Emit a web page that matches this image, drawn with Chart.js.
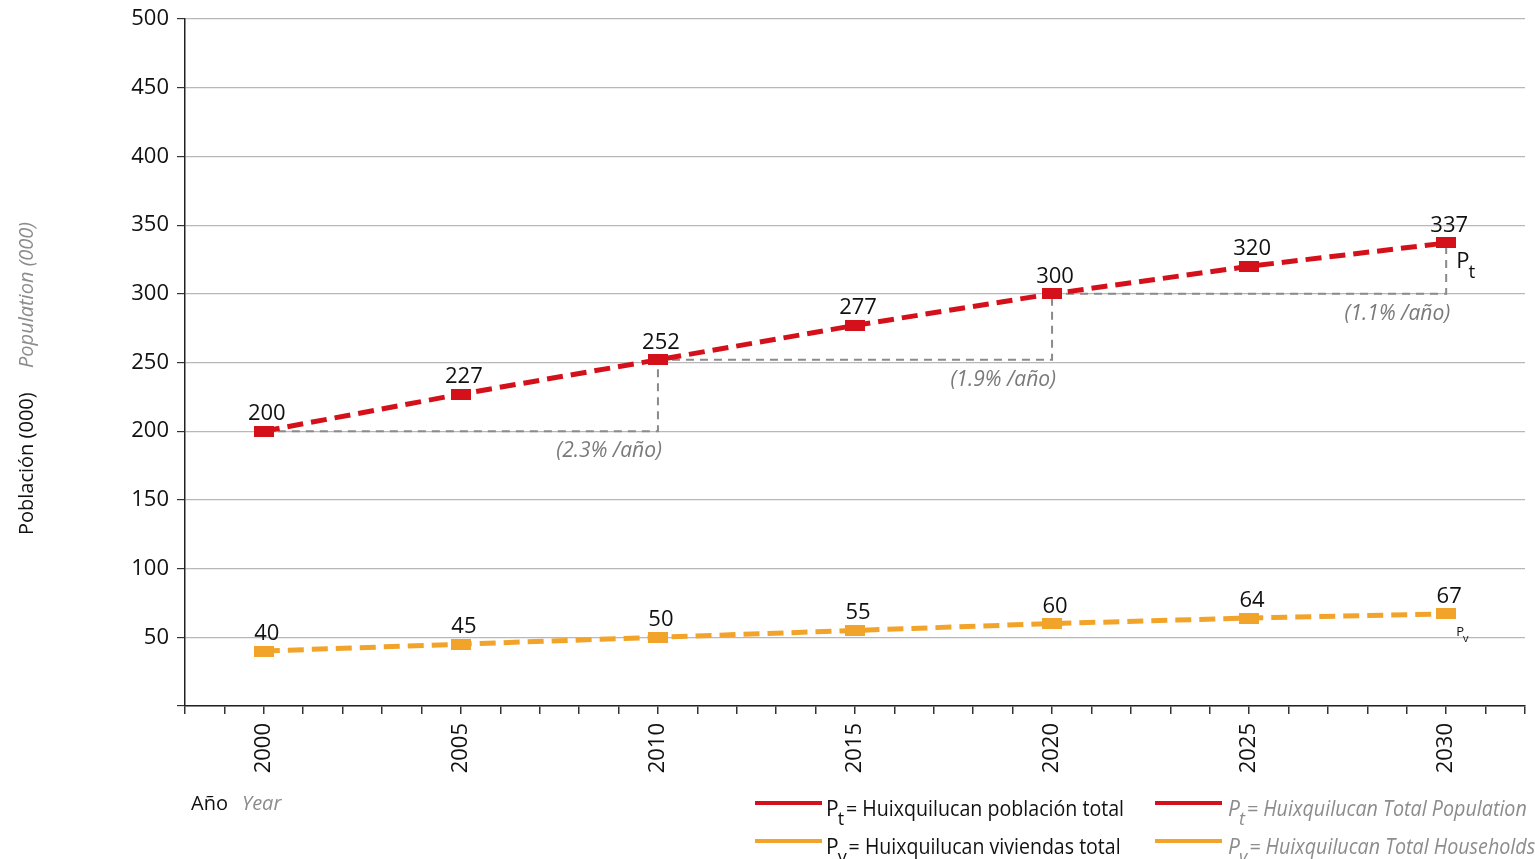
<!DOCTYPE html>
<html>
<head>
<meta charset="utf-8">
<script src="https://cdn.jsdelivr.net/npm/chart.js@4.4.0/dist/chart.umd.min.js"></script>
<style>
  html, body { margin: 0; background: #fff; }
</style>
</head>
<body>
<canvas id="chart" width="1535" height="859"></canvas>
<script>
// datos
const years = [2000, 2005, 2010, 2015, 2020, 2025, 2030];
const total = [200, 227, 252, 277, 300, 320, 337];        // Pt
const households = [40, 45, 50, 55, 60, 64, 67];          // Pv
const rateLabels = ['(2.3% /año)', '(1.9% /año)', '(1.1% /año)'];
const rateFrom = [0, 2, 4];   // índice en years
const rateTo = [2, 4, 6];

const RED = '#d4111b';
const ORANGE = '#f2a329';
const FONT = '"Open Sans", "Noto Sans", sans-serif';

function mark(color) {
    let c = document.createElement('canvas');
    c.width = 20; c.height = 11;
    let g = c.getContext('2d');
    g.fillStyle = color;
    g.fillRect(0, 0, 20, 11);
    return c;
}

function pts(vals) {
    return years.map((y, i) => ({ x: y, y: vals[i] }));
}

// escalones punteados grises
let steps = rateFrom.map((f, i) => ({
    data: [
        { x: years[f], y: total[f] },
        { x: years[rateTo[i]], y: total[f] },
        { x: years[rateTo[i]], y: total[rateTo[i]] }
    ],
    borderColor: '#8a8a8a',
    borderWidth: 2,
    borderDash: [8, 6],
    pointRadius: 0,
    fill: false
}));

// texto estrecho (la fuente original es más condensada)
function narrowText(ctx, t, x, y, sx) {
    ctx.save();
    ctx.translate(x, y);
    ctx.scale(sx, 1);
    ctx.fillText(t, 0, 0);
    ctx.restore();
}

// texto con subíndice
function subText(ctx, x, y, sub, rest, size, color, italic, restWidth) {
    let st = italic ? 'italic ' : '';
    ctx.fillStyle = color;
    ctx.textAlign = 'left';
    ctx.textBaseline = 'alphabetic';
    ctx.font = st + size + 'px ' + FONT;
    ctx.fillText('P', x, y);
    let w = ctx.measureText('P').width;
    ctx.font = st + Math.round(size * 0.85) + 'px ' + FONT;
    ctx.fillText(sub, x + w - 1, y + size * 0.45);
    let w2 = ctx.measureText(sub).width;
    if (rest) {
        ctx.font = st + size + 'px ' + FONT;
        let sx = restWidth / ctx.measureText(rest).width;
        narrowText(ctx, rest, x + w + w2 + 1, y, sx);
    }
}

const extras = {
    id: 'extras',
    afterDatasetsDraw(chart) {
        let ctx = chart.ctx;
        let xs = chart.scales.x, ys = chart.scales.y;
        ctx.save();
        // etiquetas de valores
        ctx.font = '22px ' + FONT;
        ctx.fillStyle = '#111';
        ctx.textAlign = 'center';
        ctx.textBaseline = 'alphabetic';
        [total, households].forEach(vals => {
            vals.forEach((v, i) => {
                let px = xs.getPixelForValue(years[i]);
                let py = ys.getPixelForValue(v);
                ctx.fillText(String(v), px + 3, py - 11);
            });
        });
        // tasas
        ctx.font = 'italic 21px ' + FONT;
        ctx.fillStyle = '#7a7a7a';
        ctx.textAlign = 'right';
        ctx.textBaseline = 'middle';
        rateLabels.forEach((t, i) => {
            let px = xs.getPixelForValue(years[rateTo[i]]);
            let py = ys.getPixelForValue(total[rateFrom[i]]);
            ctx.fillText(t, px + 4, py + 20);
        });
        // Pt y Pv
        let lx = xs.getPixelForValue(years[6]);
        subText(ctx, lx + 10, ys.getPixelForValue(total[6]) + 25, 't', null, 22, '#111', false);
        subText(ctx, lx + 10, ys.getPixelForValue(households[6]) + 22, 'v', null, 13, '#111', false);
        ctx.restore();
    },
    afterDraw(chart) {
        let ctx = chart.ctx;
        ctx.save();
        // título eje y
        ctx.translate(33, 535);
        ctx.rotate(-Math.PI / 2);
        ctx.textAlign = 'left';
        ctx.textBaseline = 'alphabetic';
        ctx.font = '20px ' + FONT;
        ctx.fillStyle = '#111';
        ctx.fillText('Población (000)', 0, 0);
        ctx.font = 'italic 20px ' + FONT;
        ctx.fillStyle = '#8c8c8c';
        ctx.fillText('Population (000)', 167, 0);
        ctx.restore();

        ctx.save();
        // título eje x
        ctx.textAlign = 'left';
        ctx.font = '20px ' + FONT;
        ctx.fillStyle = '#111';
        ctx.fillText('Año', 191, 810);
        ctx.font = 'italic 20px ' + FONT;
        ctx.fillStyle = '#8c8c8c';
        ctx.fillText('Year', 242, 810);

        // leyenda
        let rows = [
            { c: RED, y: 803, s: 't', es: '= Huixquilucan población total', en: '= Huixquilucan Total Population', we: 278, wn: 280 },
            { c: ORANGE, y: 841, s: 'v', es: '= Huixquilucan viviendas total', en: '= Huixquilucan Total Households', we: 272, wn: 286 }
        ];
        rows.forEach(r => {
            ctx.strokeStyle = r.c;
            ctx.lineWidth = 4;
            ctx.beginPath();
            ctx.moveTo(755, r.y); ctx.lineTo(822, r.y);
            ctx.moveTo(1155, r.y); ctx.lineTo(1222, r.y);
            ctx.stroke();
            subText(ctx, 826, r.y + 13, r.s, r.es, 21, '#111', false, r.we);
            subText(ctx, 1228, r.y + 13, r.s, r.en, 21, '#8c8c8c', true, r.wn);
        });
        ctx.restore();
    }
};

window.addEventListener('load', function() {
    let ctx = document.getElementById('chart').getContext('2d');
    new Chart(ctx, {
        type: 'line',
        data: {
            datasets: [{
                data: pts(total),
                borderColor: RED,
                backgroundColor: RED,
                borderWidth: 5,
                borderDash: [16, 8],
                pointStyle: mark(RED),
                pointRadius: 8
            }, {
                data: pts(households),
                borderColor: ORANGE,
                backgroundColor: ORANGE,
                borderWidth: 5,
                borderDash: [16, 8],
                pointStyle: mark(ORANGE),
                pointRadius: 8
            }].concat(steps)
        },
        options: {
            responsive: false,
            animation: false,
            layout: { autoPadding: false, padding: { top: 19, right: 10, left: 0, bottom: 0 } },
            plugins: { legend: { display: false }, tooltip: { enabled: false } },
            scales: {
                x: {
                    type: 'linear',
                    min: 1998,
                    max: 2032,
                    afterFit(s) { s.height = 153; s.paddingLeft = 0; s.paddingRight = 0; },
                    ticks: {
                        stepSize: 1,
                        autoSkip: false,
                        maxRotation: 90,
                        minRotation: 90,
                        padding: 9,
                        color: '#111',
                        font: { family: FONT, size: 22 },
                        callback: v => (v % 5 === 0 ? String(v) : '')
                    },
                    grid: { drawOnChartArea: false, drawTicks: true, tickLength: 8, tickColor: '#333', lineWidth: 1.5 },
                    border: { color: '#222', width: 1.5 }
                },
                y: {
                    min: 0,
                    max: 500,
                    afterFit(s) { s.width = 185; s.paddingTop = 0; s.paddingBottom = 0; },
                    ticks: {
                        stepSize: 50,
                        padding: 8,
                        color: '#111',
                        font: { family: FONT, size: 22 },
                        callback: v => (v === 0 ? '' : v)
                    },
                    grid: { color: '#b8b8b8', lineWidth: 1.2, tickLength: 8, tickColor: '#333' },
                    border: { color: '#222', width: 1.5 }
                }
            }
        },
        plugins: [extras]
    });
}, false);
</script>
</body>
</html>
